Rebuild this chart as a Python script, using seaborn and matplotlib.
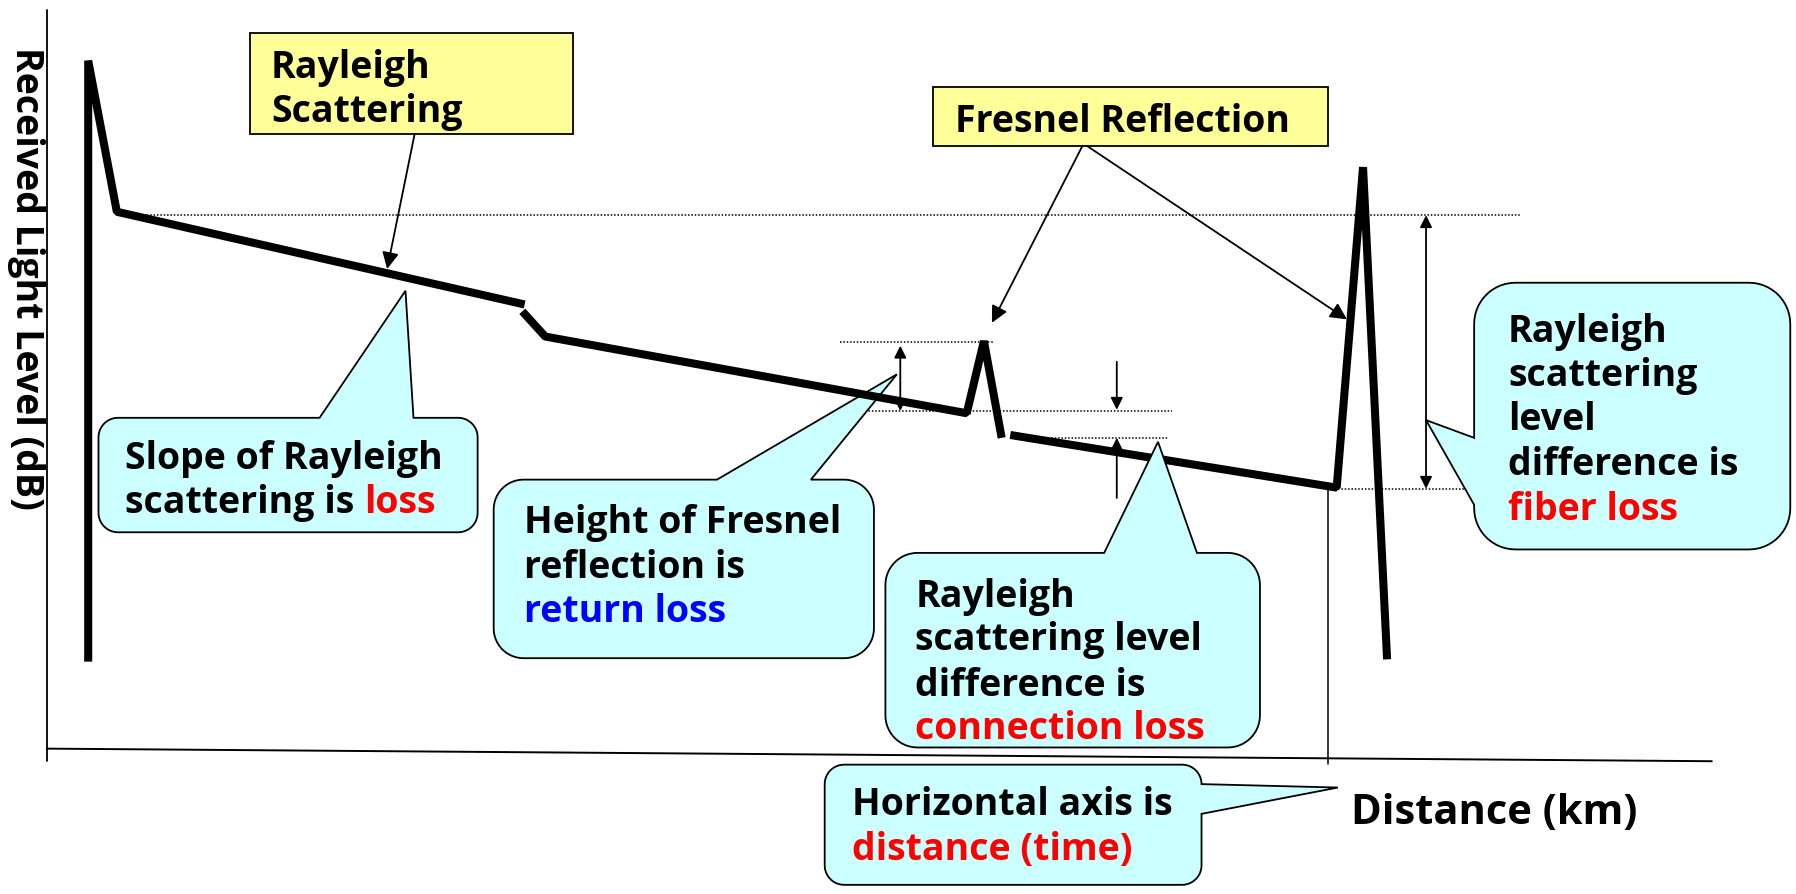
import numpy as np
import pandas as pd
import matplotlib
matplotlib.use("Agg")
import matplotlib.pyplot as plt
from matplotlib import font_manager
from matplotlib.patches import Polygon, Rectangle
import seaborn as sns

# ---------------- data (schematic OTDR trace, drawing units) ----------------
W, H = 1568, 781
trace_segment = [0, 0, 0, 0, 1, 1, 1, 1, 1, 2, 2, 2, 2]
trace_distance = [77, 77, 102, 458, 456, 476, 844, 859, 874.5, 882, 1167, 1190, 1211]
trace_level = [578, 53, 185, 266, 272, 294, 361, 298, 382.5, 380, 426, 146, 576]

ref_level = [187.5, 299, 359, 383, 427]
ref_start = [105, 733, 738, 915, 1168]
ref_end = [1328, 868, 1023, 1020, 1290]

y_label = "Received Light Level (dB)"
x_label = "Distance (km)"
title_rayleigh = ["Rayleigh", "Scattering"]
title_fresnel = ["Fresnel Reflection"]

RED, BLUE, BLACK = "#FF0000", "#0000FF", "black"
CYAN, YELLOW = "#CCFFFF", "#FFFF99"

callout_slope = [[("Slope of Rayleigh", BLACK)],
                 [("scattering is ", BLACK), ("loss", RED)]]
callout_return = [[("Height of Fresnel", BLACK)], [("reflection is", BLACK)],
                  [("return loss", BLUE)]]
callout_conn = [[("Rayleigh", BLACK)], [("scattering level", BLACK)],
                [("difference is", BLACK)], [("connection loss", RED)]]
callout_fiber = [[("Rayleigh", BLACK)], [("scattering", BLACK)], [("level", BLACK)],
                 [("difference is", BLACK)], [("fiber loss", RED)]]
callout_horiz = [[("Horizontal axis is", BLACK)], [("distance (time)", RED)]]

# ---------------- figure ----------------
sns.set_theme(style="white")


def pick_bold_family():
    fams = {}
    for f in font_manager.fontManager.ttflist:
        w = f.weight if isinstance(f.weight, int) else (700 if "bold" in str(f.weight).lower() else 400)
        if w >= 700:
            fams[f.name] = True
    for cand in ["Noto Sans", "Open Sans", "Roboto", "Lato", "Inter", "Liberation Sans", "DejaVu Sans"]:
        if cand in fams:
            return cand
    return "DejaVu Sans"


FAM = pick_bold_family()
plt.rcParams["font.family"] = [FAM, "DejaVu Sans"]
plt.rcParams["text.color"] = "black"
FS = 27

fig = plt.figure(figsize=(17.96, 8.94), dpi=100)
ax = fig.add_axes([0, 0, 1, 1])

df = pd.DataFrame({"distance": trace_distance, "level": trace_level, "seg": trace_segment})
sns.lineplot(data=df, x="distance", y="level", units="seg", estimator=None, sort=False,
             color="black", linewidth=5.8, ax=ax, legend=False, zorder=3,
             solid_joinstyle="bevel", solid_capstyle="butt")
ax.set_xlim(0, W)
ax.set_ylim(H, 0)
ax.axis("off")

# axes lines
ax.plot([41, 41], [8.7, 665], color="black", lw=1.3, zorder=2)
ax.plot([41, 1494.5], [654, 665], color="black", lw=1.4, zorder=2)
ax.plot([1159, 1159], [426, 667], color="black", lw=1.1, zorder=2)

# dotted reference levels
for yv, xs, xe in zip(ref_level, ref_start, ref_end):
    ax.plot([xs, xe], [yv, yv], color="black", lw=1.1, ls=(0, (1, 1.2)), zorder=1)

fig.canvas.draw()
renderer = fig.canvas.get_renderer()
px_per_unit = fig.get_figwidth() * fig.dpi / W


def text_width(s, **kw):
    t = ax.text(0, 0, s, **kw)
    w = t.get_window_extent(renderer).width
    t.remove()
    return w / px_per_unit


def rich_line(x, y, parts, z, fs=FS):
    kw = dict(fontsize=fs, fontweight="bold")
    full = ""
    for s, c in parts:
        full += s
        if s.strip() == "":
            continue
        xs = x + text_width(full.rstrip(), **kw) - text_width(s.rstrip(), **kw)
        ax.text(xs, y, s.rstrip(), color=c, va="baseline", ha="left", zorder=z, **kw)


def callout(box, r, side, base, tip, lines, tx, baselines, z):
    x0, y0, x1, y1 = box
    pts = []

    def arc(cx, cy, a0, a1):
        for t in np.linspace(np.radians(a0), np.radians(a1), 14):
            pts.append((cx + r * np.cos(t), cy + r * np.sin(t)))

    pts.append((x0 + r, y0))
    if side == "top":
        pts += [(base[0], y0), tip, (base[1], y0)]
    arc(x1 - r, y0 + r, -90, 0)
    if side == "right":
        pts += [(x1, base[0]), tip, (x1, base[1])]
    arc(x1 - r, y1 - r, 0, 90)
    arc(x0 + r, y1 - r, 90, 180)
    if side == "left":
        pts += [(x0, base[1]), tip, (x0, base[0])]
    arc(x0 + r, y0 + r, 180, 270)
    ax.add_patch(Polygon(pts, closed=True, facecolor=CYAN, edgecolor="black",
                         lw=1.3, joinstyle="miter", zorder=z))
    for parts, yb in zip(lines, baselines):
        rich_line(tx, yb, parts, z + 0.5)


def label_box(box, lines, tx, baselines):
    x0, y0, x1, y1 = box
    ax.add_patch(Rectangle((x0, y0), x1 - x0, y1 - y0, facecolor=YELLOW,
                           edgecolor="black", lw=1.3, zorder=4))
    for s, yb in zip(lines, baselines):
        ax.text(tx, yb, s, fontsize=FS, fontweight="bold", va="baseline", ha="left",
                zorder=4.5)


def arrow(start, end, style="-|>", ms=25, z=4):
    ax.annotate("", xy=end, xytext=start,
                arrowprops=dict(arrowstyle=style, lw=1.3, color="black",
                                mutation_scale=ms, shrinkA=0, shrinkB=0),
                zorder=z)


# callouts
callout((86, 365, 417, 465), 17, "top", (279, 361), (354, 254), callout_slope,
        109, [410, 448], 2)
callout((431, 419, 763, 575), 26, "top", (626, 708), (783, 327), callout_return,
        457.5, [465.5, 505, 543], 2)
callout((773, 483, 1100, 653), 28, "top", (964, 1045), (1011, 386), callout_conn,
        799, [530, 568, 608, 646], 5)
callout((1287, 247, 1563, 480), 36, "left", (382.5, 441), (1245, 367), callout_fiber,
        1316.5, [298.5, 337.5, 375.5, 414.7, 454], 2)
callout((720, 668, 1049, 773), 17, "right", (685, 711), (1168, 688), callout_horiz,
        744, [712, 751], 2)

# yellow labels
label_box((218, 29, 500, 117), title_rayleigh, 236.6, [68, 106.5])
label_box((814.5, 76, 1159.5, 127.5), title_fresnel, 834, [115])

# arrows
arrow((362, 117), (338, 235))
arrow((945, 127.5), (866, 282))
arrow((949, 127.5), (1176, 279))
arrow((786, 359), (786, 302), style="<|-|>", ms=18)
arrow((975, 316), (975, 358), ms=18)
arrow((975, 435), (975, 382.5), ms=18)
arrow((1245, 427), (1245, 188), style="<|-|>", ms=18, z=6)

# axis titles
ax.text(23, 243, y_label, rotation=-90, fontsize=FS, fontweight="bold",
        ha="center", va="center")
ax.text(1179.5, 720, x_label, fontsize=30, fontweight="bold", ha="left", va="baseline")

fig.savefig("out.png", dpi=100)
